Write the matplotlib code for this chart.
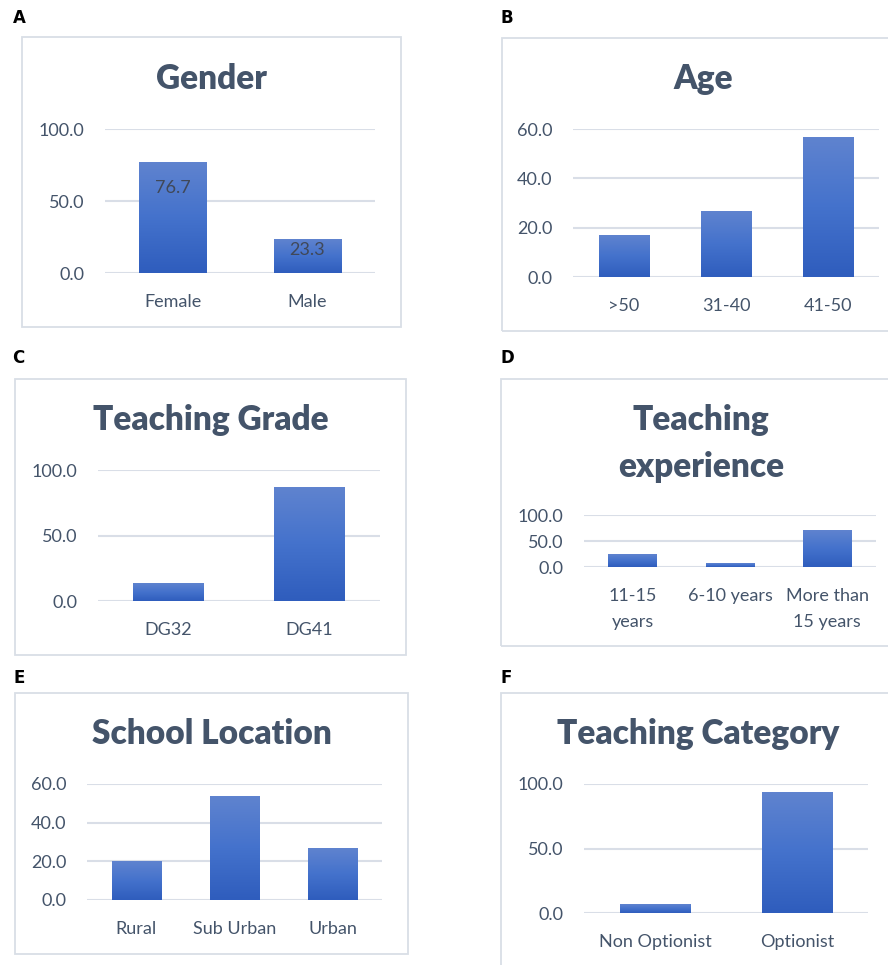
import matplotlib.pyplot as plt
import numpy as np
from matplotlib.patches import Rectangle
from matplotlib.colors import LinearSegmentedColormap

# data per panel
gender_cats = ['Female', 'Male']
gender_vals = [76.7, 23.3]

age_cats = ['>50', '31-40', '41-50']
age_vals = [16.7, 26.7, 56.7]

grade_cats = ['DG32', 'DG41']
grade_vals = [13.3, 86.7]

exp_cats = ['11-15\nyears', '6-10 years', 'More than\n15 years']
exp_vals = [23.3, 6.7, 70.0]

loc_cats = ['Rural', 'Sub Urban', 'Urban']
loc_vals = [20.0, 53.3, 26.7]

cat_cats = ['Non Optionist', 'Optionist']
cat_vals = [6.7, 93.3]

W, H = 888, 965
TXT = '#44546a'
GRID = '#d9dee7'
BOX = '#d9dee6'

plt.rcParams['font.family'] = ['Lato', 'DejaVu Sans']

fig = plt.figure(figsize=(W / 100, H / 100), dpi=100)

grad = LinearSegmentedColormap.from_list('g', ['#2f5dbd', '#4472cc', '#5f83cf'])


def px_axes(x0, y0, x1, y1):
    # pixel box (top-left origin) -> figure axes
    return fig.add_axes([x0 / W, 1 - y1 / H, (x1 - x0) / W, (y1 - y0) / H])


def box(x0, y0, x1, y1):
    fig.patches.append(Rectangle((x0 / W, 1 - y1 / H), (x1 - x0) / W, (y1 - y0) / H,
                                 transform=fig.transFigure, fill=False,
                                 edgecolor=BOX, lw=1.3))


def panel(rect, cats, vals, ymax, step, title, title_y, cx, letter, lxy):
    ax = px_axes(*rect)
    x = np.arange(len(cats))
    bars = ax.bar(x, vals, width=0.5, color='#4472c4', zorder=2)
    for b in bars:
        img = np.linspace(0, 1, 100).reshape(-1, 1)
        ax.imshow(img, cmap=grad, aspect='auto', zorder=3, origin='lower',
                  extent=(b.get_x(), b.get_x() + b.get_width(), 0, b.get_height()))
    ax.set_xlim(-0.5, len(cats) - 0.5)
    ax.set_ylim(0, ymax)
    ax.set_yticks(np.arange(0, ymax + 0.1, step))
    ax.set_yticklabels([f'{v:.1f}' for v in np.arange(0, ymax + 0.1, step)])
    ax.set_xticks(x)
    ax.set_xticklabels(cats, linespacing=1.75)
    ax.yaxis.grid(True, color=GRID, lw=1.5, zorder=0)
    ax.set_axisbelow(True)
    for s in ax.spines.values():
        s.set_visible(False)
    ax.tick_params(axis='both', length=0, labelsize=13, colors=TXT)
    ax.tick_params(axis='y', pad=15)
    ax.tick_params(axis='x', pad=15)
    if isinstance(title_y, (list, tuple)):
        for t, ty in zip(title, title_y):
            fig.text(cx / W, 1 - ty / H, t, ha='center', va='center',
                     fontsize=24, fontweight='heavy', color=TXT)
    else:
        fig.text(cx / W, 1 - title_y / H, title, ha='center', va='center',
                 fontsize=24, fontweight='heavy', color=TXT)
    fig.text(lxy[0] / W, 1 - lxy[1] / H, letter, ha='left', va='center',
             fontsize=12, fontweight='bold', family='DejaVu Sans', color='black')
    return ax, bars


# A
box(22, 37, 401, 327)
axA, barsA = panel((105, 129, 375, 273), gender_cats, gender_vals, 100, 50,
                   'Gender', 79, 211.5, 'A', (13, 18))
for b, v, off in zip(barsA, gender_vals, [-25, -11]):
    axA.annotate(f'{v:.1f}', (b.get_x() + b.get_width() / 2, v),
                 xytext=(0, off * 0.72), textcoords='offset points',
                 ha='center', va='center', fontsize=13, color='#404858', zorder=5)

# B
box(502, 38, 904, 331)
panel((573, 129, 879, 277), age_cats, age_vals, 60, 20,
      'Age', 79, 703, 'B', (501, 18))

# C
box(15, 379, 406, 655)
panel((98, 470, 380, 601), grade_cats, grade_vals, 100, 50,
      'Teaching Grade', 420, 210.5, 'C', (12, 358))

# D
box(501, 379, 904, 646)
panel((584, 515, 876, 567), exp_cats, exp_vals, 100, 50,
      ['Teaching', 'experience'], [420, 467], 701, 'D', (501, 358))

# E
box(15, 693, 408, 954)
panel((87, 784, 382, 900), loc_cats, loc_vals, 60, 20,
      'School Location', 734, 211.5, 'E', (13, 678))

# F
box(501, 693, 904, 990)
panel((584, 784, 868, 913), cat_cats, cat_vals, 100, 50,
      'Teaching Category', 734, 698, 'F', (501, 678))

fig.savefig('out.png', dpi=100)
